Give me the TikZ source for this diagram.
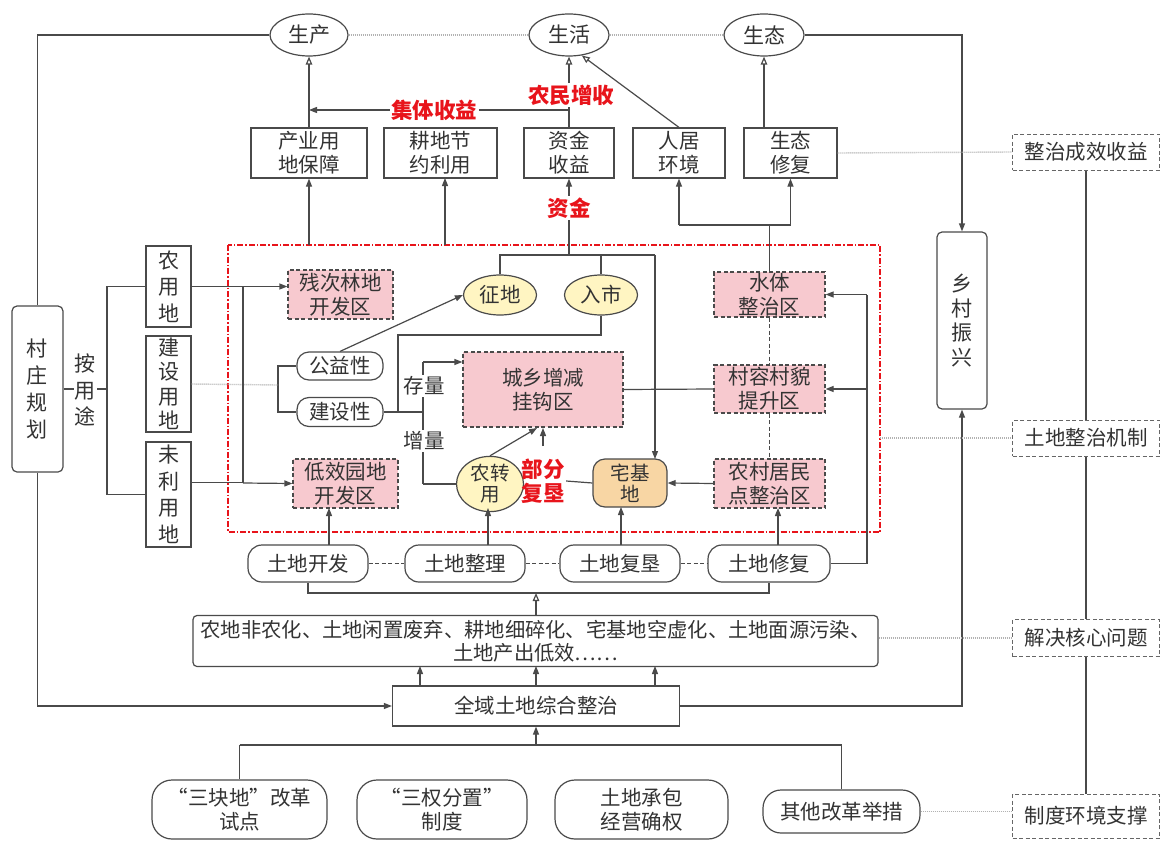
\documentclass[tikz,border=0pt]{standalone}
\usepackage{fontspec}
\setmainfont{Noto Sans CJK SC}
\usetikzlibrary{arrows.meta,shapes.geometric,calc}
\definecolor{ln}{HTML}{4A4A4A}
\definecolor{txt}{HTML}{333333}
\definecolor{pinkf}{HTML}{F7C9CF}
\definecolor{yelf}{HTML}{FFF5C2}
\definecolor{oraf}{HTML}{F8D6A4}
\definecolor{redt}{HTML}{E8141B}
\tikzset{
  base/.style={font=\fontsize{20.5}{24}\selectfont, text=txt, align=center, inner sep=0pt},
  bx/.style={base, draw=ln, line width=1.2pt, rectangle},
  rbx/.style={bx, rounded corners=5pt},
  pill/.style={bx, rounded corners=14pt},
  bigpill/.style={bx, rounded corners=20pt},
  dsh/.style={dash pattern=on 4pt off 2.5pt},
  pinkbx/.style={bx, dsh, fill=pinkf},
  sidebx/.style={bx, dsh, draw=gray!80!black, line width=1pt},
  ell/.style={base, ellipse, draw=ln, line width=1.2pt},
  vtxt/.style={base, font=\fontsize{21}{26.5}\selectfont},
  redlbl/.style={base, font=\fontsize{21.5}{24}\selectfont\bfseries, text=redt, fill=white, inner sep=1.5pt},
  lbl/.style={base, fill=white, inner sep=1.5pt},
  wire/.style={draw=ln, line width=1.2pt},
  arr/.style={wire, -{Triangle[length=8pt,width=6pt]}},
  oarr/.style={wire, -{Triangle[open,length=8pt,width=6.5pt,fill=white]}},
  dotln/.style={draw=gray!60, line width=1.4pt, dash pattern=on 1pt off 1pt},
  dshln/.style={wire, dsh},
}
\begin{document}
\begin{tikzpicture}[x=1pt,y=-1pt]
\useasboundingbox (0,0) rectangle (1161,840);
\fill[white] (0,0) rectangle (1161,840);

% red region
\draw[draw=redt, line width=1.1pt, dash pattern=on 6pt off 2pt on 1.5pt off 2pt] (228,245) rectangle (880,532);

% top ellipses
\node[ell, minimum width=78, minimum height=42, font=\fontsize{21}{24}\selectfont] (sc) at (309,35) {生产};
\node[ell, minimum width=80, minimum height=42, font=\fontsize{21}{24}\selectfont] (sh) at (569,35) {生活};
\node[ell, minimum width=80, minimum height=42, font=\fontsize{21}{24}\selectfont] (st) at (764,35) {生态};
\draw[dotln] (sc.east) -- (sh.west);
\draw[dotln] (sh.east) -- (st.west);

% second row
\node[bx, minimum width=116, minimum height=50] (cy) at (309,153) {产业用\\地保障};
\node[bx, minimum width=113, minimum height=50] (gd) at (440.5,153) {耕地节\\约利用};
\node[bx, minimum width=90, minimum height=50] (zj) at (569,153) {资金\\收益};
\node[bx, minimum width=92, minimum height=50] (rj) at (679,153) {人居\\环境};
\node[bx, minimum width=93, minimum height=50] (sx) at (790.5,153) {生态\\修复};

\draw[oarr] (cy.north) -- (sc.south);
\draw[oarr] (zj.north) -- (sh.south);
\draw[oarr] (rj.north) -- (sh.-58);
\draw[oarr] (st.south |- sx.north) -- (st.south);
\coordinate (jt) at (569,110);
\draw[arr] (jt) -- (cy.north |- jt);
\node[redlbl] (jtl) at (434,110) {集体收益};
\node[redlbl] (nml) at (571,95) {农民增收};

% from red box up
\draw[arr] (cy.south |- 0,245) -- (cy.south);
\draw[arr] (445,245) -- (445,178);
\coordinate (zjj) at (569,255);
\draw[arr] (zjj) -- (zj.south);
\node[redlbl] (zjl) at (569,208) {资金};

% ellipses in region
\node[ell, fill=yelf, minimum width=73, minimum height=40] (zd) at (500,295) {征地};
\node[ell, fill=yelf, minimum width=73, minimum height=40] (rs) at (601,295) {入市};
\draw[wire] (zd.north) -- (500,255) -- (655,255);
\draw[wire] (rs.north) -- (601,255);

% right column in region
\node[pinkbx, minimum width=111, minimum height=45] (st2) at (769.5,294.5) {水体\\整治区};
\node[pinkbx, minimum width=111, minimum height=48] (cr) at (769.5,389) {村容村貌\\提升区};
\node[pinkbx, minimum width=111, minimum height=49] (nc) at (769.5,483.5) {农村居民\\点整治区};
\draw[dshln] (st2.south) -- (cr.north);
\draw[dshln] (cr.south) -- (nc.north);
\draw[wire] (st2.north) -- (769.5,225);
\draw[wire] (679,225) -- (790.5,225);
\draw[arr] (679,225) -- (rj.south);
\draw[arr] (sx.south |- 0,225) -- (sx.south);

% centre
\node[pinkbx, minimum width=160, minimum height=75] (cx) at (543,389.5) {城乡增减\\挂钩区};
\node[ell, fill=yelf, minimum width=67, minimum height=48, font=\fontsize{19.5}{21}\selectfont] (nz) at (490,484) {农转\\用};
\node[base, draw=ln, line width=1.2pt, fill=oraf, rounded corners=12pt, minimum width=74, minimum height=48, font=\fontsize{19.5}{21}\selectfont] (zjd) at (630,483) {宅基\\地};
\node[redlbl, fill=none, font=\fontsize{21.5}{24.5}\selectfont\bfseries] (bf) at (543,481) {部分\\复垦};
\draw[arr] (655,255) -- (655,459);
\draw[arr] (nc.west) -- (zjd.east);
\draw[wire] (zjd.west) -- (bf.east);
\draw[arr] (543,446) -- (543,428);
\draw[arr] (nz.north) -- (537,428);
\draw[wire] (cx.east) -- (cr.west);

% left group in region
\node[bx, rounded corners=12pt, minimum width=86, minimum height=28] (gy) at (340,366) {公益性};
\node[bx, rounded corners=12pt, minimum width=86, minimum height=29] (js) at (340,412) {建设性};
\draw[arr] (gy.north) -- (zd.west);
\draw[wire] (gy.west) -- (278,366) -- (278,412) -- (js.west);
\draw[wire] (rs.south) -- (601,335) -- (398,335) -- (398,412);
\draw[wire] (js.east) -- (423,412);
\draw[wire] (423,362) -- (423,484);
\draw[arr] (423,362) -- (cx.west |- 0,362);
\draw[wire] (423,484) -- (nz.west);
\node[lbl] (cl) at (424,386) {存量};
\node[lbl] (zl) at (424,441) {增量};

\node[pinkbx, minimum width=105, minimum height=49] (cc) at (340.5,294.5) {残次林地\\开发区};
\node[pinkbx, minimum width=105, minimum height=49] (dx) at (345.5,483.5) {低效园地\\开发区};

% left side
\node[rbx, minimum width=51, minimum height=166] (cz) at (37.5,389) {};
\node[vtxt, font=\fontsize{21}{27}\selectfont] at (cz) {村\\庄\\规\\划};
\node[bx, minimum width=45, minimum height=81] (ny) at (168.5,286.5) {};
\node[vtxt] at (ny) {农\\用\\地};
\node[bx, minimum width=45, minimum height=96] (jy) at (168.5,384) {};
\node[vtxt, font=\fontsize{21}{24.5}\selectfont] at (jy) {建\\设\\用\\地};
\node[bx, minimum width=45, minimum height=105] (wl) at (168.5,494.5) {};
\node[vtxt] at (wl) {未\\利\\用\\地};
\draw[wire] (cz.east) -- (107,389);
\node[vtxt, fill=white, inner sep=1pt] (ayt) at (85,390) {按\\用\\途};
\draw[wire] (ny.west) -- (107,286.5) -- (107,494.5) -- (wl.west);
\draw[dotln] (jy.east) -- (278,385);
\draw[wire] (ny.east) -- (243,286.5);
\draw[arr] (243,286.5) -- (cc.west |- 0,286.5);
\draw[wire] (243,286.5) -- (243,483);
\draw[arr] (243,483) -- (dx.west);
\draw[wire] ([yshift=12pt]wl.east) -- (243,482.5);

% bottom row of actions
\node[pill, minimum width=120, minimum height=37] (tk) at (308,563.5) {土地开发};
\node[pill, minimum width=120, minimum height=37] (tz) at (465,563.5) {土地整理};
\node[pill, minimum width=120, minimum height=37] (tf) at (620,563.5) {土地复垦};
\node[pill, minimum width=122, minimum height=37] (tx) at (769,563.5) {土地修复};
\draw[dshln] (tk.east) -- (tz.west);
\draw[dshln] (tz.east) -- (tf.west);
\draw[dshln] (tf.east) -- (tx.west);
\draw[arr] (329,545) -- (329,508);
\draw[arr] (488,545) -- (488,508);
\draw[arr] (621,545) -- (621,507);
\draw[arr] (778,545) -- (778,508);
\draw[wire] (tk.south) -- (308,593) -- (769,593) -- (tx.south);
\draw[wire] (tx.east) -- (867,563.5) -- (867,294.5);
\draw[arr] (867,294.5) -- (st2.east);
\draw[arr] (867,389) -- (cr.east);

% problem box
\node[bx, rounded corners=4pt, minimum width=685, minimum height=51, font=\fontsize{20.3}{23.5}\selectfont] (wt) at (535.5,641) {农地非农化、土地闲置废弃、耕地细碎化、宅基地空虚化、土地面源污染、\\土地产出低效……};
\draw[oarr] (536,615.5) -- (536,593);

% integrated
\node[bx, minimum width=287, minimum height=40] (qy) at (536,706) {全域土地综合整治};
\draw[arr] (420,686) -- (420,666);
\draw[arr] (536,686) -- (536,666);
\draw[arr] (655,686) -- (655,666);
\draw[wire] (sc.west) -- (cz.north |- sc.west) -- (cz.north);
\draw[arr] (cz.south) -- (cz.south |- qy.west) -- (qy.west);

% rural revitalisation
\node[rbx, minimum width=50, minimum height=177] (xc) at (962,320.5) {};
\node[vtxt, font=\fontsize{21}{24.5}\selectfont] at (xc) {乡\\村\\振\\兴};
\draw[arr] (st.east) -- (962,35) -- (xc.north);
\draw[arr] (qy.east) -- (962,706) -- (xc.south);

% bottom reforms
\node[bigpill, minimum width=175, minimum height=59] (sk) at (239.5,809.5) {“三块地”改革\\试点};
\node[bigpill, minimum width=170, minimum height=59] (sq) at (442,809.5) {“三权分置”\\制度};
\node[bigpill, minimum width=173, minimum height=59] (tc) at (641.5,809.5) {土地承包\\经营确权};
\node[bx, rounded corners=18pt, minimum width=157, minimum height=43] (qt) at (841.5,811.5) {其他改革举措};
\draw[arr] (536,745) -- (qy.south);
\draw[wire] (sk.north |- 0,745) -- (qt.north |- 0,745);
\draw[wire] (sk.north |- 0,745) -- (sk.north);
\draw[wire] (qt.north |- 0,745) -- (qt.north);

% right column
\node[sidebx, minimum width=147, minimum height=36] (s1) at (1086,152) {整治成效收益};
\node[sidebx, minimum width=147, minimum height=36] (s2) at (1086,438) {土地整治机制};
\node[sidebx, minimum width=147, minimum height=37] (s3) at (1086,638) {解决核心问题};
\node[sidebx, minimum width=147, minimum height=44] (s4) at (1086,816) {制度环境支撑};
\draw[wire] (s1.south) -- (s2.north);
\draw[wire] (s2.south) -- (s3.north);
\draw[wire] (s3.south) -- (s4.north);
\draw[dotln] (sx.east) -- (s1.west);
\draw[dotln] (880,438) -- (s2.west);
\draw[dotln] (wt.east |- s3.west) -- (s3.west);
\draw[dotln] (qt.east) -- (s4.west |- qt.east);
\end{tikzpicture}
\end{document}
